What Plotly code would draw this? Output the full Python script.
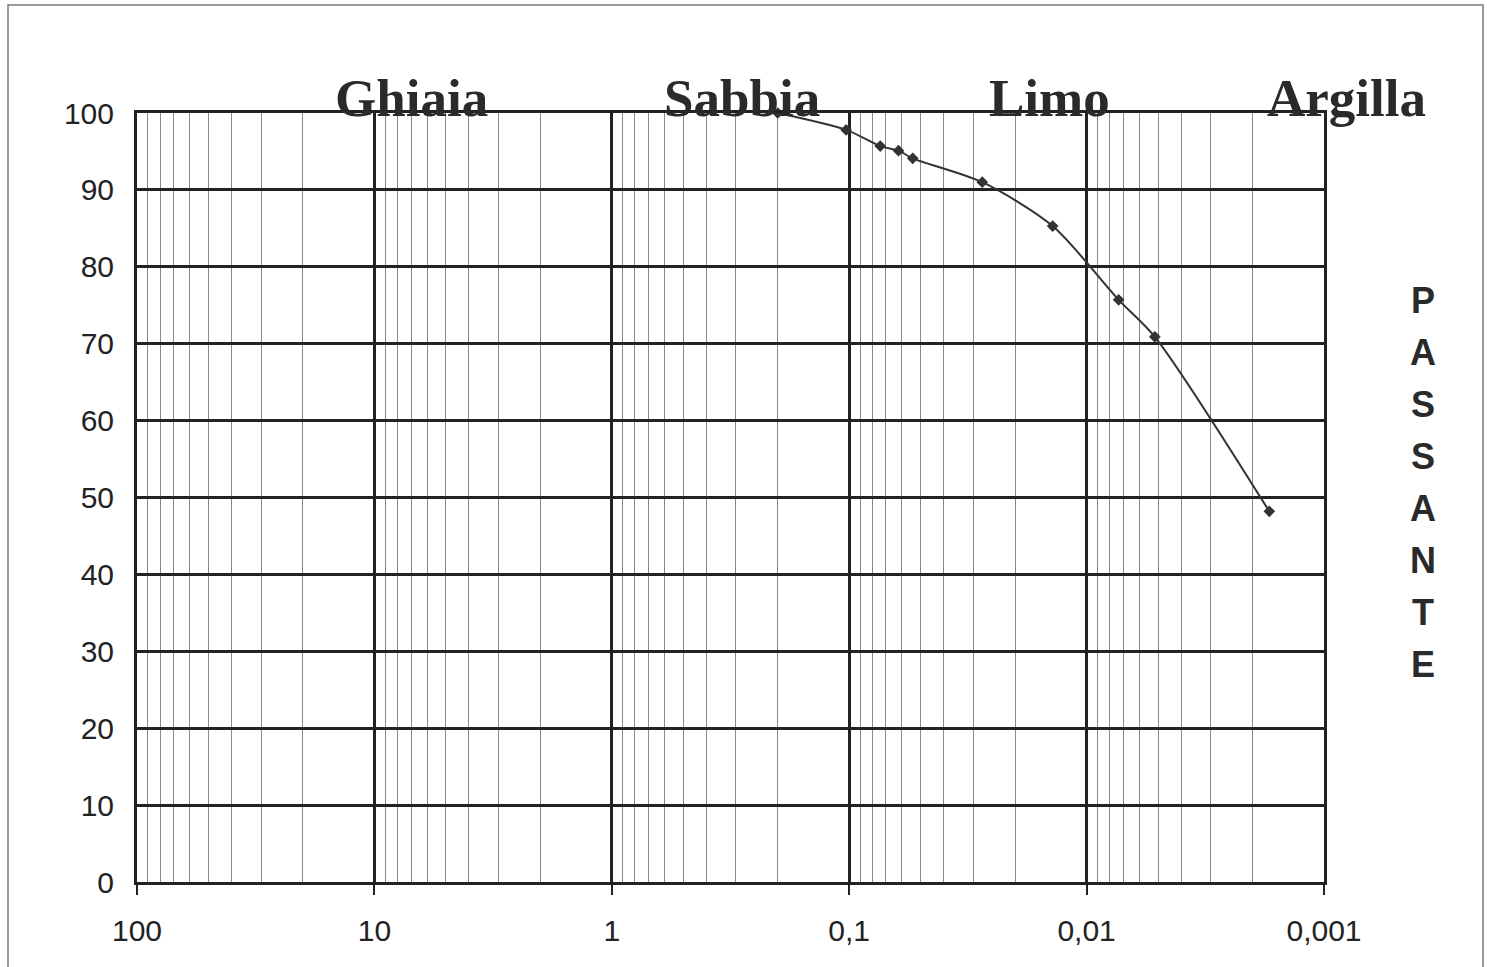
import plotly.graph_objects as go

# ---- data ----
diam_mm = [0.2, 0.103, 0.074, 0.062, 0.054, 0.0275, 0.0139, 0.00733, 0.00516, 0.0017]
passante = [100, 97.8, 95.7, 95.1, 94.1, 91.0, 85.3, 75.7, 70.9, 48.2]

x_tickvals = [100, 10, 1, 0.1, 0.01, 0.001]
x_ticktext = ["100", "10", "1", "0,1", "0,01", "0,001"]
y_tickvals = [0, 10, 20, 30, 40, 50, 60, 70, 80, 90, 100]

class_labels = ["Ghiaia", "Sabbia", "Limo", "Argilla"]
side_letters = list("PASSANTE")

# minor grid values (2..9 within each decade)
minor_vals = [m * 10 ** e for e in range(-3, 2) for m in range(2, 10)]

W, H = 1487, 967
L, R, T, B = 137, 1324, 113, 882
pw, ph = R - L, B - T

def px(xp):
    return (xp - L) / pw

def py(yp):
    return (B - yp) / ph

fig = go.Figure()
fig.add_trace(go.Scatter(
    x=diam_mm, y=passante, mode="lines+markers",
    line=dict(color="#333333", width=2, shape="spline", smoothing=0.8),
    marker=dict(symbol="diamond", size=9, color="#333333"),
    showlegend=False, cliponaxis=False,
))

axis_font = dict(family="Liberation Sans, Arial, sans-serif", size=30, color="#222222")

fig.update_layout(
    width=W, height=H,
    margin=dict(l=L, r=W - R, t=T, b=H - B),
    paper_bgcolor="white", plot_bgcolor="white",
    xaxis=dict(
        type="log", range=[2, -3],
        tickmode="array", tickvals=x_tickvals, ticktext=x_ticktext,
        ticks="outside", ticklen=10, tickwidth=2, tickcolor="#222",
        tickfont=axis_font, ticklabelstandoff=10,
        showgrid=True, gridcolor="#222222", gridwidth=3,
        showline=True, linecolor="#222222", linewidth=3, mirror=True,
        minor=dict(tickmode="array", tickvals=minor_vals, showgrid=True,
                   gridcolor="#8a8a8a", gridwidth=1, ticks=""),
        zeroline=False,
    ),
    yaxis=dict(
        range=[0, 100], tickmode="array", tickvals=y_tickvals,
        ticks="", tickfont=axis_font, ticklabelstandoff=14,
        showgrid=True, gridcolor="#222222", gridwidth=2.5,
        showline=True, linecolor="#222222", linewidth=3, mirror=True,
        zeroline=False,
    ),
)

# class headers (Ghiaia / Sabbia / Limo / Argilla)
header_px = [411, 742, 1049, 1346]
for txt, xp in zip(class_labels, header_px):
    fig.add_annotation(
        text=f"<b>{txt}</b>", xref="paper", yref="paper",
        x=px(xp), y=py(129), xanchor="center", yanchor="bottom",
        showarrow=False,
        font=dict(family="Liberation Serif, Times New Roman, serif", size=53, color="#2a2a2a"),
    )

# vertical "PASSANTE" label, one letter per line
for i, ch in enumerate(side_letters):
    fig.add_annotation(
        text=f"<b>{ch}</b>", xref="paper", yref="paper",
        x=px(1423), y=py(300 + 52 * i), xanchor="center", yanchor="middle",
        showarrow=False,
        font=dict(family="Liberation Sans, Arial, sans-serif", size=36, color="#2a2a2a"),
    )

# outer page frame
fig.add_shape(type="rect", xref="paper", yref="paper",
              x0=px(8), x1=px(1483), y0=py(1000), y1=py(5),
              line=dict(color="#7a7a7a", width=1.5), layer="below")

fig.write_html("out.html")
